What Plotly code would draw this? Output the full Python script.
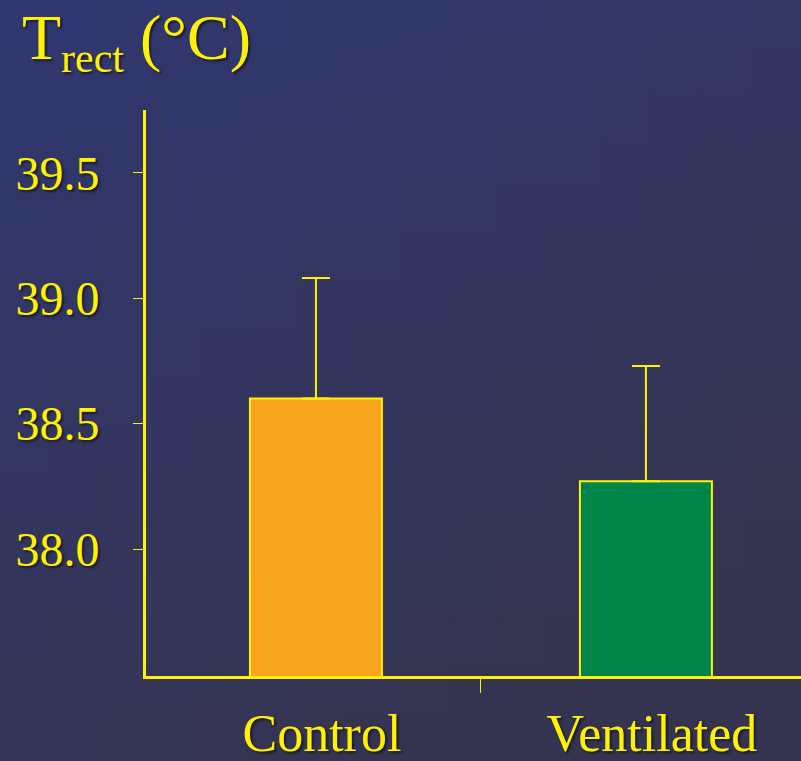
import plotly.graph_objects as go

categories = ["Control", "Ventilated"]
means = [38.60, 38.27]
sem_upper = [0.48, 0.46]
bar_colors = ["#f6a51d", "#00844a"]
y_ticks = [38.0, 38.5, 39.0, 39.5]

W, H = 801, 761
L, R, T, B = 146, 0, 110, 85
PW, PH = W - L - R, H - T - B
YEL = "#fff200"
SHADOW = "2px 2px 2px rgba(20,20,40,0.8)"

fig = go.Figure()
fig.add_trace(go.Bar(
    x=[0, 1], y=means, width=0.4, base=0,
    marker=dict(color=bar_colors, line=dict(color=YEL, width=2)),
    error_y=dict(type="data", array=sem_upper, arrayminus=[0, 0], symmetric=False,
                 color=YEL, thickness=2, width=14),
    showlegend=False,
))

# gradient background built from shapes
shapes = []
NX, NY = 16, 16
c0 = (48, 55, 112)
c1 = (53, 52, 80)
for i in range(NX):
    for j in range(NY):
        xn = (i + 0.5) / NX
        yn = (j + 0.5) / NY
        t = min(1.0, max(0.0, 0.45 * xn + 0.8 * yn))
        c = tuple(int(round(c0[k] + (c1[k] - c0[k]) * t)) for k in range(3))
        x0p, x1p = i * W / NX, (i + 1) * W / NX + 1
        y0p, y1p = j * H / NY, (j + 1) * H / NY + 1
        shapes.append(dict(
            type="rect", xref="paper", yref="paper", layer="below",
            x0=(x0p - L) / PW, x1=(x1p - L) / PW,
            y0=1 - (y1p - T) / PH, y1=1 - (y0p - T) / PH,
            fillcolor="rgb(%d,%d,%d)" % c, line=dict(width=0),
        ))

fig.update_layout(
    width=W, height=H,
    margin=dict(l=L, r=R, t=T, b=B, autoexpand=False),
    paper_bgcolor="rgb(51,53,96)",
    plot_bgcolor="rgba(0,0,0,0)",
    shapes=shapes,
    xaxis=dict(
        range=[-0.515, 1.47], tickvals=[0, 1], ticktext=categories,
        ticks="", showline=True, linecolor=YEL, linewidth=3, showgrid=False,
        zeroline=False, automargin=False,
        tickfont=dict(family="Liberation Serif", size=52, color=YEL, shadow=SHADOW),
        ticklabelstandoff=10, ticklabelshift=6,
        minor=dict(tickvals=[0.5], ticks="outside", ticklen=14, tickwidth=1, tickcolor=YEL),
    ),
    yaxis=dict(
        range=[37.494, 39.75], tickvals=y_ticks, tickformat=".1f",
        ticks="outside", ticklen=10, tickwidth=1, tickcolor=YEL,
        showline=True, linecolor=YEL, linewidth=3, showgrid=False, zeroline=False,
        automargin=False,
        tickfont=dict(family="Liberation Serif", size=48, color=YEL, shadow=SHADOW),
        ticklabelstandoff=24,
    ),
    annotations=[dict(
        text="T<sub><span style='font-size:42px'>rect</span></sub> (°C)",
        xref="paper", yref="paper",
        x=(20 - L) / PW, y=1 + T / PH, xanchor="left", yanchor="top",
        showarrow=False,
        font=dict(family="Liberation Serif", size=64, color=YEL, shadow=SHADOW),
    )],
)

fig.write_html("out.html")
